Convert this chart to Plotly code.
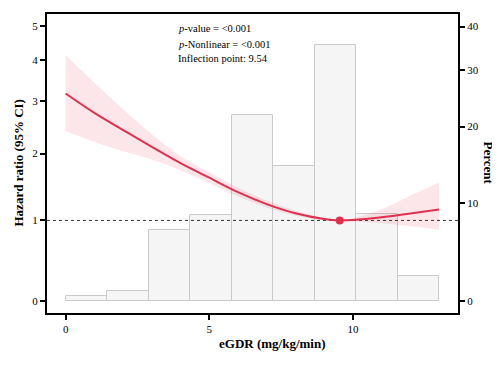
import numpy as np
import plotly.graph_objects as go

# ---- data ----
x_pts = [0, 1, 2, 3, 4, 5, 6, 7, 8, 9, 9.54, 10, 11, 12, 13]
hr = [3.17, 2.755, 2.42, 2.115, 1.841, 1.611, 1.395, 1.224, 1.097, 1.019, 1.0, 1.006, 1.043, 1.094, 1.148]
hr_upper = [4.12, 3.42, 2.83, 2.34, 1.955, 1.696, 1.461, 1.273, 1.131, 1.032, 1.0, 1.027, 1.151, 1.344, 1.539]
hr_lower = [2.40, 2.20, 2.04, 1.90, 1.727, 1.528, 1.33, 1.176, 1.063, 1.006, 1.0, 0.987, 0.963, 0.921, 0.878]

bin_edges = [0, 1.444, 2.889, 4.333, 5.778, 7.222, 8.667, 10.111, 11.556, 13.0]
pct = [0.48, 0.93, 7.0, 8.6, 21.8, 14.5, 35.6, 8.7, 2.4]

inflection_x = 9.54
inflection_hr = 1.0

hr_ticks = [0, 1, 2, 3, 4, 5]
pct_ticks = [0, 10, 20, 30, 40]
x_ticks = [0, 5, 10]

PCT_PER_HR = 8.05  # secondary axis factor


def tr(v):
    """pseudo-log transform (sigma = 1)"""
    return np.arcsinh(np.asarray(v, dtype=float) / 2.0)


y_range = [-0.073, 1.717]
x_range = [-0.65, 13.66]

FONT = "Liberation Serif"
RED = "#E0304E"

fig = go.Figure()

# histogram (percent axis = y, drawn first)
centers = [(bin_edges[i] + bin_edges[i + 1]) / 2 for i in range(len(pct))]
widths = [bin_edges[i + 1] - bin_edges[i] for i in range(len(pct))]
fig.add_trace(go.Bar(
    x=centers, y=tr(np.array(pct) / PCT_PER_HR), width=widths,
    marker=dict(color="#F5F5F5", line=dict(color="#CACACA", width=1)),
    yaxis="y", showlegend=False, hoverinfo="skip"))

# CI band (hazard ratio axis = y2)
fig.add_trace(go.Scatter(x=x_pts, y=tr(hr_upper), mode="lines", yaxis="y2",
                         line=dict(width=0, shape="spline"), showlegend=False, hoverinfo="skip"))
fig.add_trace(go.Scatter(x=x_pts, y=tr(hr_lower), mode="lines", yaxis="y2",
                         line=dict(width=0, shape="spline"), fill="tonexty",
                         fillcolor="rgba(232,90,110,0.15)", showlegend=False, hoverinfo="skip"))

# reference line HR = 1
fig.add_trace(go.Scatter(x=x_range, y=tr([1, 1]), mode="lines", yaxis="y2",
                         line=dict(color="#333333", width=1, dash="dot"),
                         showlegend=False, hoverinfo="skip"))

# HR curve
fig.add_trace(go.Scatter(x=x_pts, y=tr(hr), mode="lines", yaxis="y2",
                         line=dict(color=RED, width=2, shape="spline"),
                         showlegend=False))

# inflection point
fig.add_trace(go.Scatter(x=[inflection_x], y=tr([inflection_hr]), mode="markers", yaxis="y2",
                         marker=dict(color=RED, size=8), showlegend=False))

axis_font = dict(family=FONT, size=11, color="black")

# page body has an 8px margin: figure sized to fit the window exactly
fig.update_layout(
    width=492, height=357,
    margin=dict(l=39, r=42, t=4, b=52),
    plot_bgcolor="white", paper_bgcolor="white",
    font=dict(family=FONT, color="black"),
    bargap=0,
    xaxis=dict(range=x_range, tickvals=x_ticks, ticktext=[str(t) for t in x_ticks],
               showline=True, linecolor="black", linewidth=2, mirror=True,
               ticks="outside", ticklen=5, tickwidth=2, tickcolor="black",
               showgrid=False, zeroline=False, tickfont=axis_font),
    yaxis=dict(range=y_range, side="right",
               tickvals=tr(np.array(pct_ticks) / PCT_PER_HR),
               ticktext=[str(t) for t in pct_ticks],
               showline=True, linecolor="black", linewidth=2,
               ticks="outside", ticklen=5, tickwidth=2, tickcolor="black",
               showgrid=False, zeroline=False, tickfont=axis_font),
    yaxis2=dict(range=y_range, overlaying="y", side="left",
                tickvals=tr(hr_ticks), ticktext=[str(t) for t in hr_ticks],
                showline=True, linecolor="black", linewidth=2,
                ticks="outside", ticklen=5, tickwidth=2, tickcolor="black",
                showgrid=False, zeroline=False, tickfont=axis_font),
)

W = 492 - 39 - 42
H = 357 - 4 - 52


def px_x(px):  # window pixel -> paper
    return (px - 47) / W


def px_y(py):
    return (313 - py) / H


title_font = dict(family=FONT, size=13, color="black")
fig.add_annotation(text="<b>eGDR (mg/kg/min)</b>", x=px_x(272), y=px_y(344),
                   xref="paper", yref="paper", xanchor="center", yanchor="middle",
                   showarrow=False, font=title_font)
fig.add_annotation(text="<b>Hazard ratio (95% CI)</b>", x=px_x(18), y=0.5,
                   xref="paper", yref="paper", xanchor="center", yanchor="middle",
                   showarrow=False, textangle=-90, font=title_font)
fig.add_annotation(text="<b>Percent</b>", x=px_x(488), y=0.5,
                   xref="paper", yref="paper", xanchor="center", yanchor="middle",
                   showarrow=False, textangle=90, font=title_font)

stat_font = dict(family=FONT, size=10.5, color="black")
for txt, py in [("<i>p</i>-value = &lt;0.001", 26.7),
                ("<i>p</i>-Nonlinear = &lt;0.001", 42.3),
                ("Inflection point: 9.54", 56.7)]:
    fig.add_annotation(text=txt, x=px_x(176), y=px_y(py), xref="paper", yref="paper",
                       xanchor="left", yanchor="middle", showarrow=False, font=stat_font)

fig.write_html("out.html")
